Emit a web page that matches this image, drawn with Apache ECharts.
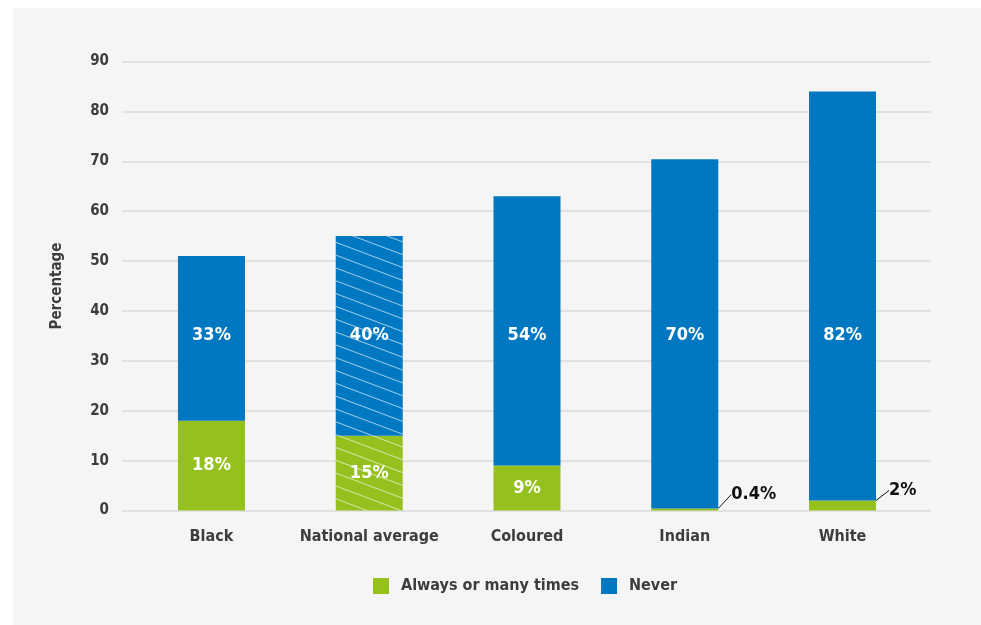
<!DOCTYPE html>
<html>
<head>
<meta charset="utf-8">
<script src="https://cdn.jsdelivr.net/npm/echarts@6/dist/echarts.min.js"></script>
<style>
  html, body { margin: 0; padding: 0; background: #ffffff; }
  #wrap { position: relative; width: 981px; height: 625px; background: #ffffff; }
  #panel { position: absolute; left: 13px; top: 8px; right: 0; bottom: 0; background: #f5f5f5; }
  #chart { position: absolute; left: 0; top: 0; width: 981px; height: 625px; }
</style>
</head>
<body>
<div id="wrap">
  <div id="panel"></div>
  <div id="chart"></div>
</div>
<script>
// Share of respondents by population group
const categories = ['Black', 'National average', 'Coloured', 'Indian', 'White'];
const alwaysValues = [18, 15, 9, 0.4, 2];
const neverValues = [33, 40, 54, 70, 82];
const yTicks = { min: 0, max: 90, interval: 10 };
const seriesNames = ['Always or many times', 'Never'];

const FONT = "'DejaVu Sans Condensed', 'Liberation Sans Narrow', sans-serif";
const GREEN = '#95c11f';
const BLUE = '#0078c1';
const TEXT = '#3d3d3d';
const AVERAGE_INDEX = categories.indexOf('National average');

const hatch = {
  symbol: 'rect',
  symbolSize: 1,
  dashArrayX: [1, 0],
  dashArrayY: [1, 11],
  rotation: 0.36,
  color: 'rgba(255,255,255,0.6)'
};

// small vertical nudges so the inner "Never" labels sit on one line
const neverLabelNudge = [-3, -1, 4, 1, 39];
const alwaysLabelNudge = [0, -8, 0, 0, 0];
// thin segments get their label outside, to the right
const outsideLabel = {
  show: true,
  position: 'right',
  distance: 5,
  color: '#111111',
  fontFamily: FONT,
  fontWeight: 'bold',
  fontSize: 18
};

const alwaysData = alwaysValues.map((v, i) => {
  const item = { value: v };
  if (v < 3) {
    item.label = outsideLabel;
    item.labelLine = { show: true, lineStyle: { color: '#111111', width: 1 } };
  } else {
    item.label = { offset: [0, alwaysLabelNudge[i]] };
  }
  if (i === AVERAGE_INDEX) item.itemStyle = { decal: hatch };
  return item;
});

const neverData = neverValues.map((v, i) => {
  const item = { value: v, label: { offset: [0, neverLabelNudge[i]] } };
  if (i === AVERAGE_INDEX) item.itemStyle = { decal: hatch };
  return item;
});

const insideLabel = {
  show: true,
  position: 'inside',
  color: '#ffffff',
  fontFamily: FONT,
  fontWeight: 'bold',
  fontSize: 18,
  formatter: p => p.value + '%'
};

const chart = echarts.init(document.getElementById('chart'), null, { renderer: 'canvas' });

chart.setOption({
  animation: false,
  backgroundColor: 'transparent',
  textStyle: { fontFamily: FONT },
  legend: {
    data: seriesNames,
    bottom: 26,
    left: 368,
    itemWidth: 16,
    itemHeight: 16,
    itemGap: 22,
    icon: 'rect',
    textStyle: { color: TEXT, fontFamily: FONT, fontWeight: 'bold', fontSize: 16, padding: [0, 0, 0, 7] }
  },
  grid: [
    // grid carrying the value scale and the grid lines
    { left: 122, right: 50, top: 61.5, bottom: 114.5 },
    // grid carrying the bars
    { left: 132.6, right: 59.6, top: 61.5, bottom: 114.5 }
  ],
  xAxis: [
    { gridIndex: 0, type: 'value', show: false, min: 0, max: 1 },
    {
      gridIndex: 1,
      type: 'category',
      data: categories,
      axisLine: { show: false },
      axisTick: { show: false },
      axisLabel: { interval: 0, color: TEXT, fontFamily: FONT, fontWeight: 'bold', fontSize: 16, margin: 18 }
    }
  ],
  yAxis: [
    {
      gridIndex: 0,
      type: 'value',
      min: yTicks.min,
      max: yTicks.max,
      interval: yTicks.interval,
      name: 'Percentage',
      nameLocation: 'middle',
      nameGap: 57,
      nameRotate: 90,
      nameTextStyle: { color: TEXT, fontFamily: FONT, fontWeight: 'bold', fontSize: 15 },
      axisLine: { show: false },
      axisTick: { show: false },
      axisLabel: { color: TEXT, fontFamily: FONT, fontWeight: 'bold', fontSize: 15, margin: 13 },
      splitLine: { lineStyle: { color: '#dadada', width: 1.5 } }
    },
    {
      gridIndex: 1,
      type: 'value',
      min: yTicks.min,
      max: yTicks.max,
      interval: yTicks.interval,
      show: false,
      splitLine: { show: false }
    }
  ],
  series: [
    {
      name: seriesNames[0],
      type: 'bar',
      stack: 'total',
      xAxisIndex: 1,
      yAxisIndex: 1,
      barWidth: 67,
      itemStyle: { color: GREEN },
      label: insideLabel,
      labelLayout: p => (p.dataIndex >= 3 ? { dx: 8, dy: -15 } : {}),
      data: alwaysData
    },
    {
      name: seriesNames[1],
      type: 'bar',
      stack: 'total',
      xAxisIndex: 1,
      yAxisIndex: 1,
      barWidth: 67,
      itemStyle: { color: BLUE },
      label: insideLabel,
      data: neverData
    }
  ]
});
</script>
</body>
</html>
